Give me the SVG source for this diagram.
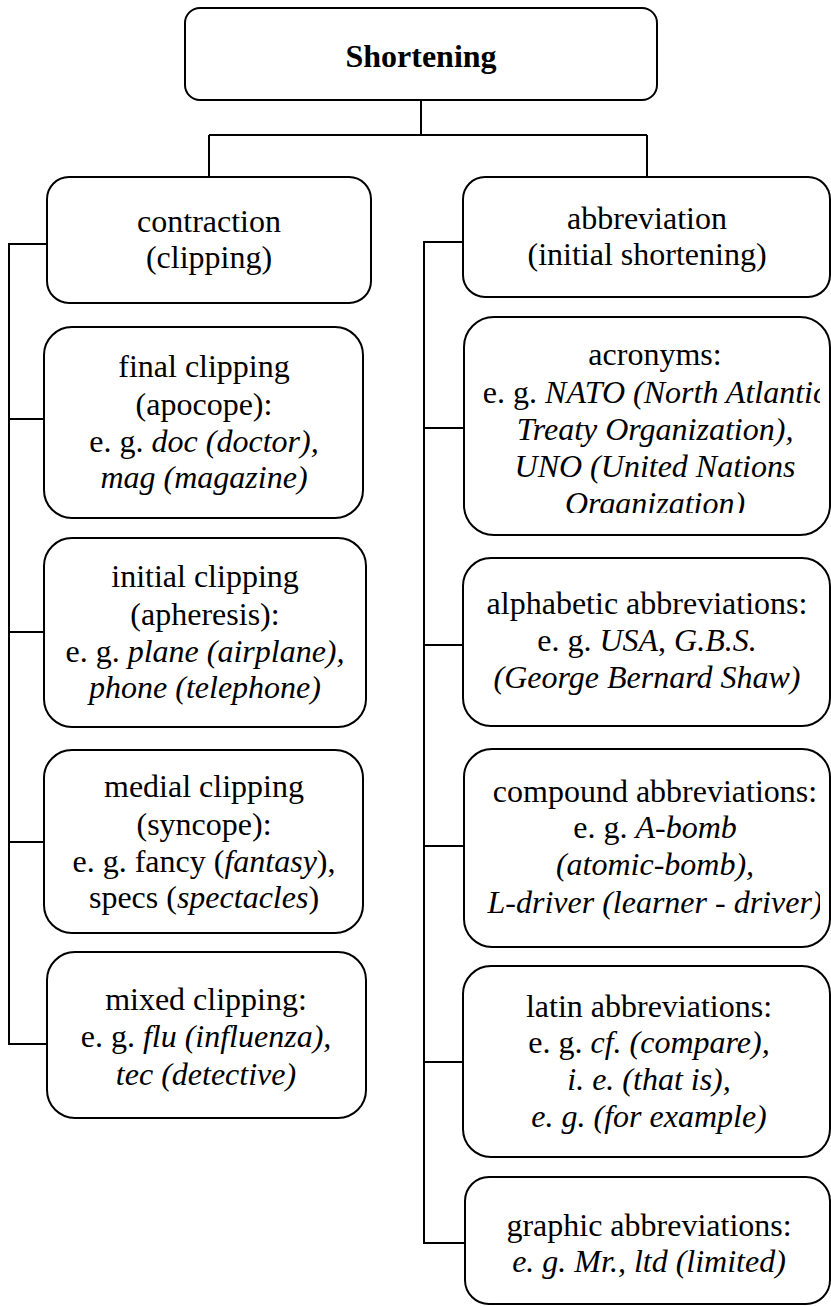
<svg xmlns="http://www.w3.org/2000/svg" width="831" height="1306" viewBox="0 0 831 1306">
<style>
.box{fill:#fff;stroke:#000;stroke-width:2}
.ln{fill:none;stroke:#000;stroke-width:2}
text{font-family:"Liberation Serif","Times New Roman",serif;font-size:32px;fill:#000;text-anchor:middle}
.b{font-weight:bold}
.i{font-style:italic}
</style>
<defs>
<clipPath id="clipA"><rect x="462" y="316" width="358" height="197"/></clipPath>
<clipPath id="clipC"><rect x="462" y="748" width="358" height="200"/></clipPath>
</defs>
<g id="connectors">
<path class="ln" d="M421 100 V135 M209 135 H647 M209 135 V178 M647 135 V177"/>
<path class="ln" d="M47 244 H9 V1044 H47 M9 419 H44 M9 632 H44 M9 842 H44"/>
<path class="ln" d="M463 242 H424 V1243 H465 M424 428 H464 M424 645 H463 M424 846 H464 M424 1062 H463"/>
</g>
<g id="shortening">
<rect class="box" x="185" y="8" width="472" height="92" rx="15"/>
<text class="b" x="421" y="67">Shortening</text>
</g>
<g id="contraction">
<rect class="box" x="47" y="177" width="324" height="126" rx="22"/>
<text x="209" y="232">contraction</text>
<text x="209" y="268">(clipping)</text>
</g>
<g id="final-clipping">
<rect class="box" x="44" y="327" width="319" height="191" rx="28"/>
<text x="204" y="377">final clipping</text>
<text x="204" y="415">(apocope):</text>
<text x="204" y="452">e. g. <tspan class="i">doc (doctor),</tspan></text>
<text x="204" y="488" class="i">mag (magazine)</text>
</g>
<g id="initial-clipping">
<rect class="box" x="44" y="538" width="322" height="189" rx="28"/>
<text x="205" y="587">initial clipping</text>
<text x="205" y="625">(apheresis):</text>
<text x="205" y="662">e. g. <tspan class="i">plane (airplane),</tspan></text>
<text x="205" y="698" class="i">phone (telephone)</text>
</g>
<g id="medial-clipping">
<rect class="box" x="44" y="750" width="319" height="183" rx="28"/>
<text x="204" y="797">medial clipping</text>
<text x="204" y="835">(syncope):</text>
<text x="204" y="872">e. g. fancy (<tspan class="i">fantasy</tspan>),</text>
<text x="204" y="908">specs (<tspan class="i">spectacles</tspan>)</text>
</g>
<g id="mixed-clipping">
<rect class="box" x="47" y="952" width="319" height="166" rx="28"/>
<text x="206" y="1010">mixed clipping:</text>
<text x="206" y="1047">e. g. <tspan class="i">flu (influenza),</tspan></text>
<text x="206" y="1085" class="i">tec (detective)</text>
</g>
<g id="abbreviation">
<rect class="box" x="463" y="177" width="367" height="120" rx="22"/>
<text x="647" y="229">abbreviation</text>
<text x="647" y="265">(initial shortening)</text>
</g>
<g id="acronyms">
<rect class="box" x="464" y="317" width="366" height="218" rx="30"/>
<g clip-path="url(#clipA)">
<text x="655" y="365">acronyms:</text>
<text x="655" y="403">e. g. <tspan class="i">NATO (North Atlantic</tspan></text>
<text x="655" y="440" class="i">Treaty Organization),</text>
<text x="655" y="477" class="i">UNO (United Nations</text>
<text x="655" y="514" class="i">Organization)</text>
</g>
</g>
<g id="alphabetic">
<rect class="box" x="463" y="558" width="367" height="168" rx="28"/>
<text x="647" y="614">alphabetic abbreviations:</text>
<text x="647" y="651">e. g. <tspan class="i">USA</tspan>, <tspan class="i">G.B.S.</tspan></text>
<text x="647" y="688" class="i">(George Bernard Shaw)</text>
</g>
<g id="compound">
<rect class="box" x="464" y="749" width="366" height="198" rx="28"/>
<g clip-path="url(#clipC)">
<text x="655" y="802">compound abbreviations:</text>
<text x="655" y="838">e. g. <tspan class="i">A-bomb</tspan></text>
<text x="655" y="875" class="i">(atomic-bomb),</text>
<text x="655" y="913" class="i">L-driver (learner - driver)</text>
</g>
</g>
<g id="latin">
<rect class="box" x="463" y="966" width="367" height="191" rx="28"/>
<text x="649" y="1017">latin abbreviations:</text>
<text x="649" y="1053">e. g. <tspan class="i">cf. (compare),</tspan></text>
<text x="649" y="1090" class="i">i. e. (that is),</text>
<text x="649" y="1127" class="i">e. g. (for example)</text>
</g>
<g id="graphic">
<rect class="box" x="465" y="1177" width="365" height="127" rx="24"/>
<text x="649" y="1236">graphic abbreviations:</text>
<text x="649" y="1272" class="i">e. g. Mr., ltd (limited)</text>
</g>
</svg>
